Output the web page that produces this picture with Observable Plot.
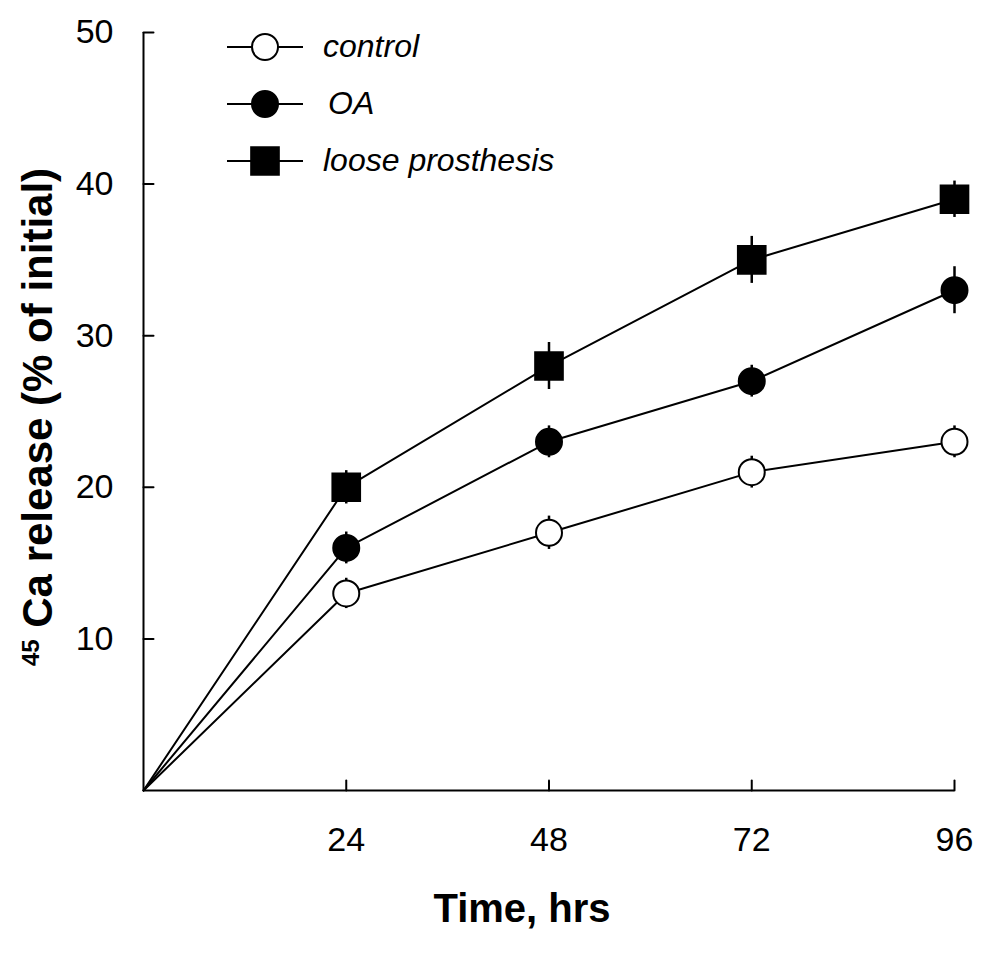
<!DOCTYPE html>
<html><head><meta charset="utf-8">
<script src="https://cdn.jsdelivr.net/npm/d3@7"></script>
<script src="https://cdn.jsdelivr.net/npm/@observablehq/plot@0.6"></script>
<style>body{margin:0;background:#fff}</style>
</head><body><div id="chart"></div>
<script>
const hours = [0, 24, 48, 72, 96];
const seriesNames = ["control", "OA", "loose prosthesis"];
const controlValues = [0, 13, 17, 21, 23];
const controlErrors = [0, 1.0, 1.1, 1.05, 1.05];
const oaValues = [0, 16, 23, 27, 33];
const oaErrors = [0, 1.05, 1.05, 1.05, 1.55];
const looseValues = [0, 20, 28, 35, 39];
const looseErrors = [0, 1.1, 1.55, 1.55, 1.2];
const xTicks = [24, 48, 72, 96];
const yTicks = [10, 20, 30, 40, 50];
const xLabel = "Time, hrs";
const yLabelSup = "45";
const yLabelMain = "Ca release (% of initial)";

const styleOf = {
  "control": {symbol: "circle", fill: "white", r: 13},
  "OA": {symbol: "circle", fill: "black", r: 13},
  "loose prosthesis": {symbol: "square", fill: "black", r: 15.6}
};

const seriesData = [[controlValues, controlErrors], [oaValues, oaErrors], [looseValues, looseErrors]];
const rows = [];
seriesNames.forEach((name, s) => {
  hours.forEach((h, i) => rows.push({series: name, hour: h, value: seriesData[s][0][i], err: seriesData[s][1][i]}));
});
const pts = rows.filter(d => d.hour > 0);

const tickRight = {draw(ctx, l) { ctx.moveTo(0, 0); ctx.lineTo(l, 0); }};
const tickUp = {draw(ctx, l) { ctx.moveTo(0, 0); ctx.lineTo(0, -l); }};

const baseFont = "'Liberation Sans', Arial, sans-serif";

const chart = Plot.plot({
  width: 1004,
  height: 953,
  marginLeft: 143,
  marginRight: 50,
  marginTop: 32,
  marginBottom: 163,
  x: {domain: [0, 96]},
  y: {domain: [0, 50]},
  style: {fontFamily: baseFont, fontSize: "34px", color: "black", background: "white"},
  marks: [
    Plot.axisY({ticks: yTicks, tickSize: 0, tickPadding: 30, label: null, fontSize: 34}),
    Plot.axisX({ticks: xTicks, tickSize: 0, tickPadding: 36, label: null, fontSize: 34}),
    Plot.ruleY([0], {stroke: "black", strokeWidth: 2}),
    Plot.ruleX([0], {stroke: "black", strokeWidth: 2}),
    Plot.vector(yTicks, {x: 0, y: d => d, length: 10, anchor: "start", shape: tickRight, stroke: "black", strokeWidth: 2}),
    Plot.vector(xTicks, {x: d => d, y: 0, length: 10, anchor: "start", shape: tickUp, stroke: "black", strokeWidth: 2}),
    Plot.line(rows, {x: "hour", y: "value", z: "series", stroke: "black", strokeWidth: 2}),
    Plot.ruleX(pts, {x: "hour", y1: d => d.value - d.err, y2: d => d.value + d.err, stroke: "black", strokeWidth: 2.5}),
    ...seriesNames.map(name => Plot.dot(pts.filter(d => d.series === name), {
      x: "hour", y: "value", symbol: styleOf[name].symbol, r: styleOf[name].r,
      fill: styleOf[name].fill, stroke: "black", strokeWidth: 2
    }))
  ]
});
document.getElementById("chart").appendChild(chart);

const svg = d3.select(chart);

// Legend
const lg = svg.append("g").attr("transform", "translate(227,47)");
seriesNames.forEach((name, i) => {
  const g = lg.append("g").attr("transform", `translate(0,${i * 57})`);
  g.append("line").attr("x1", 0).attr("x2", 76).attr("y1", 0).attr("y2", 0)
    .attr("stroke", "black").attr("stroke-width", 2);
  const st = styleOf[name];
  const sym = d3.symbol(st.symbol === "square" ? d3.symbolSquare : d3.symbolCircle, Math.PI * st.r * st.r);
  g.append("path").attr("d", sym()).attr("transform", "translate(38,0)")
    .attr("fill", st.fill).attr("stroke", "black").attr("stroke-width", 2);
  g.append("text").attr("x", name === "OA" ? 101 : 96).attr("y", 0).attr("dy", "0.32em")
    .attr("text-anchor", "start")
    .attr("font-family", baseFont).attr("font-style", "italic")
    .attr("font-size", 32).attr("fill", "black").text(name);
});

// Y axis title
const yt = svg.append("text").attr("transform", "translate(52,417) rotate(-90)")
  .attr("text-anchor", "middle").attr("font-family", baseFont)
  .attr("font-weight", "bold").attr("font-size", 42).attr("fill", "black");
yt.append("tspan").attr("font-size", 24).attr("dy", -13).text(yLabelSup);
yt.append("tspan").attr("dy", 13).text(" " + yLabelMain);

// X axis title
svg.append("text").attr("x", 522).attr("y", 922).attr("text-anchor", "middle")
  .attr("font-family", baseFont)
  .attr("font-weight", "bold").attr("font-size", 40).attr("fill", "black").text(xLabel);
</script>
</body></html>
